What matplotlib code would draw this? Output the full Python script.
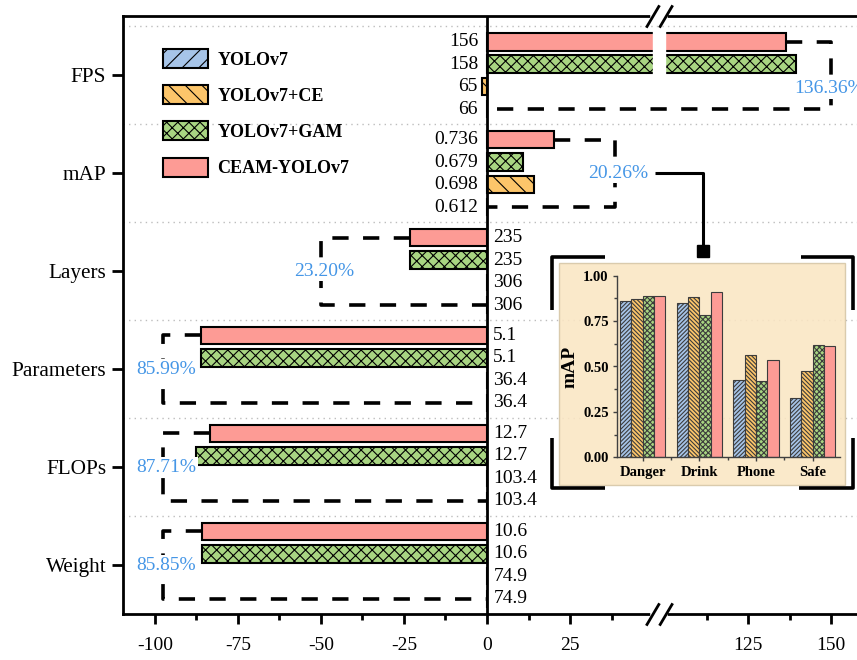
import numpy as np
import matplotlib
matplotlib.use('Agg')
import matplotlib.pyplot as plt
from matplotlib.path import Path
from matplotlib.lines import Line2D
from matplotlib.patches import Rectangle

plt.rcParams['font.family'] = ['Liberation Serif', 'DejaVu Serif']
plt.rcParams['axes.unicode_minus'] = False
plt.rcParams['hatch.linewidth'] = 0.8

# Data
metrics = ['FPS', 'mAP', 'Layers', 'Parameters', 'FLOPs', 'Weight']
models = ['YOLOv7', 'YOLOv7+CE', 'YOLOv7+GAM', 'CEAM-YOLOv7']

# raw values written next to the zero line
yolo_raw = ['66', '0.612', '306', '36.4', '103.4', '74.9']
ce_raw = ['65', '0.698', '306', '36.4', '103.4', '74.9']
gam_raw = ['158', '0.679', '235', '5.1', '12.7', '10.6']
ceam_raw = ['156', '0.736', '235', '5.1', '12.7', '10.6']

# change against YOLOv7 in %
yolo_pct = [0, 0, 0, 0, 0, 0]
ce_pct = [-1.52, 14.05, 0, 0, 0, 0]
gam_pct = [139.39, 10.95, -23.2, -85.99, -87.71, -85.85]
ceam_pct = [136.36, 20.26, -23.2, -85.99, -83.3, -85.85]
gain_labels = ['136.36%', '20.26%', '23.20%', '85.99%', '87.71%', '85.85%']

# inset: mAP per class
classes = ['Danger', 'Drink', 'Phone', 'Safe']
map_yolo = [0.862, 0.849, 0.426, 0.325]
map_ce = [0.871, 0.882, 0.566, 0.476]
map_gam = [0.886, 0.783, 0.421, 0.621]
map_ceam = [0.886, 0.908, 0.535, 0.614]

colors = ['#a6c4e8', '#fcc56a', '#a8d582', '#fd9b95']
hatches = ['//', '\\\\', 'xxx', '']
blue_txt = '#4596e6'


# broken x axis: 50..100 squeezed into a few pixels
def fwd(x):
    x = np.asarray(x, dtype=float)
    return np.where(x <= 50, x, np.where(x >= 100, x - 46.4, 50 + (x - 50) * 0.072))


def inv(x):
    x = np.asarray(x, dtype=float)
    return np.where(x <= 50, x, np.where(x >= 53.6, x + 46.4, 50 + (x - 50) / 0.072))


W, H = 857, 660
fig = plt.figure(figsize=(W / 100, H / 100), dpi=100)
ax = fig.add_axes([123 / W, 46 / H, 734 / W, 598 / H])
ax.set_xscale('function', functions=(fwd, inv))

yc = np.arange(len(metrics))
step = 0.2296
bh = 0.18
offs = [1.5, 0.5, -0.5, -1.5]
pcts = [yolo_pct, ce_pct, gam_pct, ceam_pct]
raws = [yolo_raw, ce_raw, gam_raw, ceam_raw]

handles = []
for k in range(4):
    yk = yc + offs[k] * step
    b = ax.barh(yk, pcts[k], height=bh, color=colors[k], edgecolor='black',
                lw=1.5, hatch=hatches[k], zorder=3)
    handles.append(b)
    for i in range(len(metrics)):
        up = ceam_pct[i] > 0
        ax.annotate(raws[k][i], (0, yk[i]), xytext=(-6.5 if up else 4.5, 0),
                    textcoords='offset points', ha='right' if up else 'left',
                    va='center', fontsize=14)

# dashed brackets with the gain
bx = [150, 38.5, -50, -97.5, -97.5, -97.5]
for i in range(len(metrics)):
    yt = yc[i] - 1.5 * step
    yb = yc[i] + 1.5 * step
    ax.plot([ceam_pct[i], bx[i], bx[i], 0], [yt, yt, yb, yb], color='black',
            lw=2.6, dashes=(4.5, 4), zorder=2)
    ly = yc[i] + (0.6 * step if i == 0 else 0)
    dx = -1.5 if i == 0 else 2.2
    ax.annotate(gain_labels[i], (bx[i], ly), xytext=(dx, 0), textcoords='offset points',
                color=blue_txt, fontsize=14, ha='center', va='center', zorder=4,
                annotation_clip=False, bbox=dict(fc='white', ec='none', pad=1))

# separators + zero line
for s in np.arange(-0.5, 5, 1):
    ax.axhline(s, color='#bdbdbd', lw=1, ls=(0, (1, 3)), zorder=1)
ax.axvline(0, color='black', lw=2, zorder=4)

# gap in the FPS bars and the // marks
ax.fill_betweenx([yc[0] - 1.5 * step - 0.14, yc[0] - 0.5 * step + 0.1], 50, 100,
                 color='white', zorder=3.5)
tr = ax.get_xaxis_transform()
brk = Path([(-13, -11), (0, 11), (0, -11), (13, 11)],
           [Path.MOVETO, Path.LINETO, Path.MOVETO, Path.LINETO])
for yy in [0, 1]:
    ax.plot([50, 100], [yy, yy], color='white', lw=4, transform=tr, clip_on=False, zorder=5)
ax.plot([75, 75], [0, 1], ls='none', marker=brk, ms=19, mec='black', mew=2,
        mfc='none', transform=tr, clip_on=False, zorder=6)

ax.set_xlim(-109.6, 157.8)
ax.set_ylim(5.5, -0.607)
ax.set_yticks(yc, metrics, fontsize=15.3)
ax.set_xticks([-100, -75, -50, -25, 0, 25, 125, 150],
              ['-100', '-75', '-50', '-25', '0', '25', '125', '150'])
ax.set_xticks([-87.5, -62.5, -37.5, -12.5, 12.5, 37.5, 112.5, 137.5], minor=True)
ax.tick_params(axis='y', length=8, width=2, pad=4)
ax.tick_params(axis='x', which='major', length=7.5, width=2, labelsize=14, pad=9)
ax.tick_params(axis='x', which='minor', length=4, width=2)
for s in ['left', 'top', 'bottom']:
    ax.spines[s].set_linewidth(2)
ax.spines['right'].set_visible(False)

ax.legend(handles, models, loc='upper left', bbox_to_anchor=(0.0545, 0.945),
          frameon=False, prop={'weight': 'bold', 'size': 13}, handlelength=2.5,
          handleheight=1.25, labelspacing=0.92, handletextpad=0.5, borderpad=0,
          borderaxespad=0)

# inset panel
panel = Rectangle((559 / W, 1 - 485 / H), (845 - 559) / W, (485 - 263) / H,
                  transform=fig.transFigure, fc='#fae6c3', ec='#d6c6a6', lw=1,
                  alpha=0.88, zorder=1)
fig.add_artist(panel)

axin = fig.add_axes([617 / W, 1 - 457.3 / H, 223 / W, 181.6 / H], zorder=2)
axin.set_facecolor('none')
xs = np.arange(len(classes))
series = [map_yolo, map_ce, map_gam, map_ceam]
in_hatch = ['////////', '\\\\\\\\\\\\\\\\', 'xxxxxx', '']
for k in range(4):
    axin.bar(xs + (k - 1.5) * 0.2, series[k], width=0.2, color=colors[k],
             edgecolor='#3c3c3c', lw=0.8, hatch=in_hatch[k])
axin.set_xlim(-0.455, 3.48)
axin.set_ylim(0, 1)
axin.set_yticks([0, 0.25, 0.5, 0.75, 1.0], ['0.00', '0.25', '0.50', '0.75', '1.00'])
axin.set_yticks([0.125, 0.375, 0.625, 0.875], minor=True)
axin.set_xticks(xs, classes)
axin.set_xticks(xs[:-1] + 0.5, minor=True)
for t in axin.get_xticklabels() + axin.get_yticklabels():
    t.set_fontweight('bold')
axin.tick_params(which='both', length=3, width=1, color='#404040', pad=3, labelsize=10.5)
axin.tick_params(which='minor', length=2)
axin.set_ylabel('mAP', fontsize=14, fontweight='bold', labelpad=3)
axin.spines['top'].set_visible(False)
axin.spines['right'].set_visible(False)
for s in ['left', 'bottom']:
    axin.spines[s].set_color('#404040')
    axin.spines[s].set_linewidth(1)


# connector and corner marks, in figure pixels
def seg(xp, yp, lw):
    fig.add_artist(Line2D([x / W for x in xp], [1 - y / H for y in yp],
                          transform=fig.transFigure, color='black', lw=lw,
                          solid_capstyle='butt', zorder=3))


seg([655, 703, 703], [173, 173, 251], 2.2)
fig.add_artist(Line2D([703 / W], [1 - 251 / H], marker='s', ms=9, color='black',
                      transform=fig.transFigure, zorder=3))
seg([605, 551.7, 551.7], [256.7, 256.7, 310], 2.6)
seg([800.7, 852.7, 852.7], [256.7, 256.7, 310], 2.6)
seg([551.7, 551.7, 605], [438, 488, 488], 2.6)
seg([852.7, 852.7, 799], [438, 488, 488], 2.6)

fig.savefig('out.png', dpi=100)
